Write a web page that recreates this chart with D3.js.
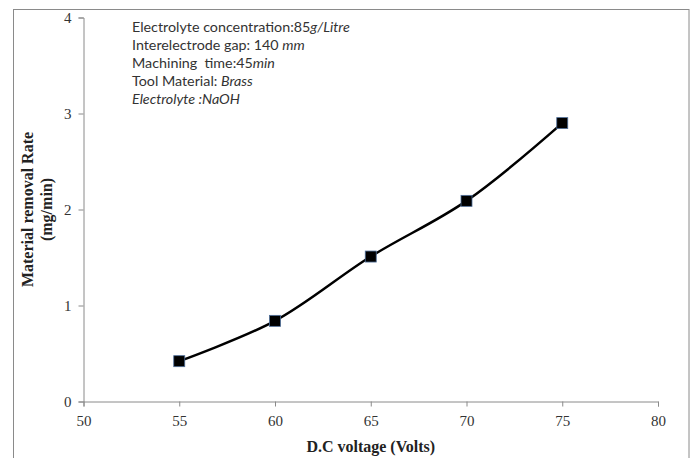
<!DOCTYPE html>
<html><head><meta charset="utf-8">
<script src="https://cdn.jsdelivr.net/npm/d3@7"></script>
<style>html,body{margin:0;padding:0;background:#fff;}svg{display:block;}</style>
</head><body>
<svg id="chart" width="691" height="458"></svg>
<script>
const voltage = [55, 60, 65, 70, 75];
const mrr = [0.42, 0.84, 1.51, 2.09, 2.90];
const xTicks = [50, 55, 60, 65, 70, 75, 80];
const yTicks = [0, 1, 2, 3, 4];
const notes = [
  [["Electrolyte concentration:85", false], ["g/Litre", true]],
  [["Interelectrode gap: 140 ", false], ["mm", true]],
  [["Machining  time:45", false], ["min", true]],
  [["Tool Material: ", false], ["Brass", true]],
  [["Electrolyte :NaOH", true]]
];
const xTitle = "D.C voltage (Volts)";
const yTitle = ["Material removal Rate", "(mg/min)"];

const svg = d3.select("#chart");
svg.append("rect").attr("x", 13.5).attr("y", 9.5).attr("width", 675.5).attr("height", 460)
  .attr("fill", "none").attr("stroke", "#8a8a8a").attr("stroke-width", 1);

const x = d3.scaleLinear().domain([50, 80]).range([83.5, 658]);
const y = d3.scaleLinear().domain([0, 4]).range([401.5, 17.5]);

const xAxis = svg.append("g").attr("transform", `translate(0,${y(0)})`)
  .call(d3.axisBottom(x).tickValues(xTicks).tickSize(5).tickPadding(9).tickFormat(d3.format("d")));
const yAxis = svg.append("g").attr("transform", `translate(${x(50)},0)`)
  .call(d3.axisLeft(y).tickValues(yTicks).tickSize(5).tickPadding(7).tickFormat(d3.format("d")));
[xAxis, yAxis].forEach(g => {
  g.selectAll("path,line").attr("stroke", "#8a8a8a");
  g.selectAll("text").attr("font-family", "'Liberation Serif','Times New Roman',serif")
    .attr("font-size", 15).attr("fill", "#333");
});

const line = d3.line().x((d, i) => x(voltage[i])).y(d => y(d)).curve(d3.curveCatmullRom.alpha(0.5));
svg.append("path").datum(mrr).attr("d", line).attr("fill", "none")
  .attr("stroke", "#000").attr("stroke-width", 2.5);

svg.selectAll("rect.m").data(mrr).enter().append("rect").attr("class", "m")
  .attr("x", (d, i) => x(voltage[i]) - 5.5).attr("y", d => y(d) - 5.5)
  .attr("width", 11).attr("height", 11).attr("fill", "#000")
  .attr("stroke", "#4f6f9a").attr("stroke-width", 0.8);

const ann = svg.append("text").attr("font-family", "Lato, 'Open Sans', sans-serif")
  .attr("font-size", 14.3).attr("fill", "#333").style("white-space", "pre");
notes.forEach((parts, i) => {
  const t = ann.append("tspan").attr("x", 132).attr("y", 32 + i * 18);
  parts.forEach(([s, it], j) => {
    const sp = j === 0 ? t : ann.append("tspan");
    sp.text(s).attr("font-style", it ? "italic" : "normal");
  });
});

svg.append("text").attr("x", x(65)).attr("y", 452).attr("text-anchor", "middle")
  .attr("font-family", "'Liberation Serif','Times New Roman',serif").attr("font-weight", "bold")
  .attr("font-size", 16).attr("fill", "#222").text(xTitle);
const yt = svg.append("text").attr("transform", `translate(0,${y(2)}) rotate(-90)`)
  .attr("text-anchor", "middle").attr("font-family", "'Liberation Serif','Times New Roman',serif")
  .attr("font-weight", "bold").attr("font-size", 16).attr("fill", "#222");
yt.append("tspan").attr("x", 0).attr("y", 33).text(yTitle[0]);
yt.append("tspan").attr("x", 0).attr("y", 52).text(yTitle[1]);
</script>
</body></html>
